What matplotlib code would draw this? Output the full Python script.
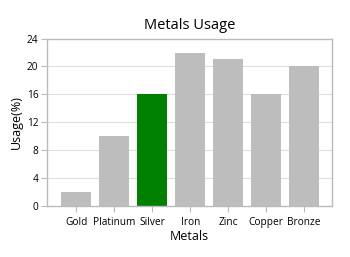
import matplotlib
matplotlib.use("Agg")
import matplotlib.pyplot as plt

metals = ["Gold", "Platinum", "Silver", "Iron", "Zinc", "Copper", "Bronze"]
usage = [2, 10, 16, 22, 21, 16, 20]
colors = ["#bdbdbd", "#bdbdbd", "#008000", "#bdbdbd", "#bdbdbd", "#bdbdbd", "#bdbdbd"]
yticks = [0, 4, 8, 12, 16, 20, 24]

plt.rcParams['font.family'] = ['Open Sans', 'DejaVu Sans']

fig = plt.figure(figsize=(3.5, 2.57), dpi=100)
ax = fig.add_axes([0.1334, 0.198, 0.816, 0.652])
x = list(range(len(metals)))
ax.bar(x, usage, width=0.79, color=colors, zorder=2)
ax.set_xlim(-0.78, 6.74)
ax.set_ylim(0, 24)
ax.set_yticks(yticks)
ax.set_xticks(x)
ax.set_xticklabels(metals, fontsize=7.3)
ax.tick_params(axis='y', labelsize=7.3, length=4, color='#bbbbbb', pad=2)
ax.tick_params(axis='x', length=4, color='#bbbbbb', pad=3.5)
ax.grid(axis='y', color='#dddddd', linewidth=0.8, zorder=0)
for s in ax.spines.values():
    s.set_color('#bbbbbb')
    s.set_linewidth(1)
ax.set_title("Metals Usage", fontsize=10.5, pad=7)
ax.set_xlabel("Metals", fontsize=9, labelpad=1.5)
ax.set_ylabel("Usage(%)", fontsize=9, labelpad=3)
fig.savefig("out.png", dpi=100)
